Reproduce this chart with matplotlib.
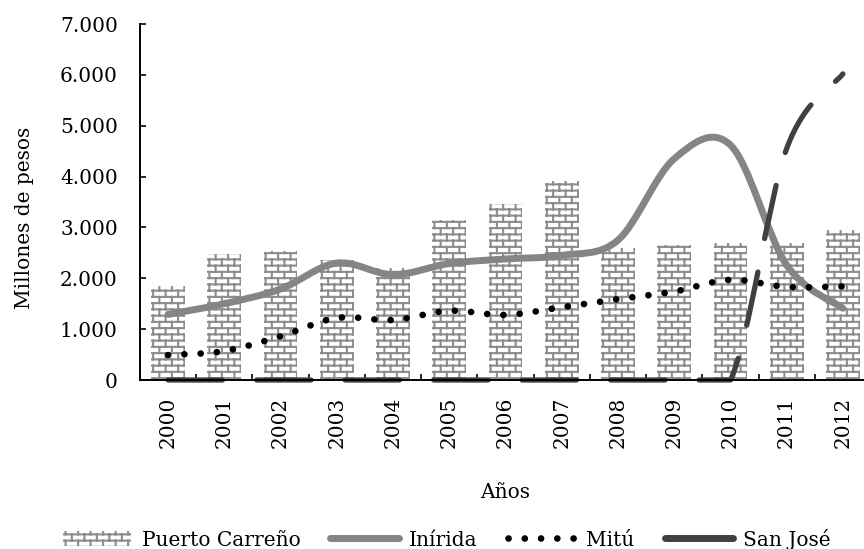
import numpy as np
import matplotlib
matplotlib.use('Agg')
import matplotlib.pyplot as plt
import matplotlib.hatch as mhatch
from matplotlib.path import Path
from matplotlib.patches import PathPatch, Patch
from matplotlib.lines import Line2D
from matplotlib.ticker import FuncFormatter, FixedLocator

# ---------------- data ----------------
years = ['2000', '2001', '2002', '2003', '2004', '2005', '2006',
         '2007', '2008', '2009', '2010', '2011', '2012']
puerto_carreno = [1850, 2480, 2540, 2350, 2200, 3150, 3460, 3920, 2600, 2650, 2700, 2700, 2940]
inirida = [1290, 1500, 1790, 2300, 2070, 2290, 2380, 2450, 2750, 4350, 4620, 2260, 1410]
mitu = [490, 570, 860, 1220, 1180, 1360, 1280, 1430, 1590, 1740, 1970, 1830, 1840]
san_jose = [0, 0, 0, 0, 0, 0, 0, 0, 0, 0, 0, 4550, 6020]

series_labels = ['Puerto Carreño', 'Inírida', 'Mitú', 'San José']
y_ticks = [0, 1000, 2000, 3000, 4000, 5000, 6000, 7000]

# ---------------- brick hatch ----------------
class BrickHatch(mhatch.HatchPatternBase):
    rows = 16
    cols = 8

    def __init__(self, hatch, density):
        self.on = '+' in hatch
        n, m = self.rows, self.cols
        self.num_vertices = (2 * n + 2 * (n + 1) * m) if self.on else 0

    def set_vertices_and_codes(self, vertices, codes):
        n, m = self.rows, self.cols
        k = 0
        for i in range(n):
            y = (i + 0.5) / n
            vertices[k] = (0.0, y)
            vertices[k + 1] = (1.0, y)
            codes[k] = Path.MOVETO
            codes[k + 1] = Path.LINETO
            k += 2
        for i in range(-1, n):
            y0 = (i + 0.5) / n
            y1 = y0 + 1.0 / n
            off = 0.5 if (i % 2) else 0.0
            for j in range(m):
                x = (j + off + 0.25) / m
                vertices[k] = (x, y0)
                vertices[k + 1] = (x, y1)
                codes[k] = Path.MOVETO
                codes[k + 1] = Path.LINETO
                k += 2

mhatch._hatch_types = [BrickHatch]

BRICK = '#8c8c8c'
INI = '#858585'
SJ = '#404040'
FS = 14.5

plt.rcParams['font.family'] = ['DejaVu Serif']
plt.rcParams['hatch.linewidth'] = 1.5
plt.rcParams['hatch.color'] = BRICK


def smooth_path(xv, yv, floor=None):
    P = np.column_stack([np.asarray(xv, float), np.asarray(yv, float)])
    E = np.vstack([P[0], P, P[-1]])
    verts = [P[0]]
    codes = [Path.MOVETO]
    for i in range(len(P) - 1):
        p0, p1, p2, p3 = E[i], E[i + 1], E[i + 2], E[i + 3]
        c1 = p1 + (p2 - p0) / 6.0
        c2 = p2 - (p3 - p1) / 6.0
        if floor is not None:
            c1[1] = max(c1[1], floor)
            c2[1] = max(c2[1], floor)
        verts += [c1, c2, p2]
        codes += [Path.CURVE4] * 3
    return Path(verts, codes)


fig = plt.figure(figsize=(8.64, 5.49), dpi=100)
ax = fig.add_axes([140 / 864, 1 - 380 / 549, 731 / 864, 356 / 549])

x = np.arange(len(years))
ax.bar(x, puerto_carreno, width=0.6, facecolor='white', edgecolor=BRICK,
       linewidth=0, hatch='+', zorder=1)

p_ini = PathPatch(smooth_path(x, inirida), fill=False, edgecolor=INI, linewidth=5.0,
                  capstyle='round', joinstyle='round', zorder=3)
ax.add_patch(p_ini)
p_mitu = PathPatch(smooth_path(x, mitu), fill=False, edgecolor='black', linewidth=4.8,
                   linestyle=(0, (0.01, 2.43)), capstyle='round', joinstyle='round', zorder=4)
ax.add_patch(p_mitu)
p_sj = PathPatch(smooth_path(x, san_jose, floor=0), fill=False, edgecolor=SJ, linewidth=3.8,
                 linestyle=(0, (10.3, 6.47)), capstyle='round', joinstyle='round', zorder=5)
ax.add_patch(p_sj)
p_sj.set_clip_on(False)

ax.set_xlim(-0.5, len(years) - 0.5)
ax.set_ylim(0, 7000)

for s in ['top', 'right']:
    ax.spines[s].set_visible(False)
for s in ['left', 'bottom']:
    ax.spines[s].set_linewidth(1.4)
    ax.spines[s].set_color('black')
    ax.spines[s].set_zorder(6)

ax.yaxis.set_major_locator(FixedLocator(y_ticks))
ax.yaxis.set_major_formatter(FuncFormatter(lambda v, p: f"{int(v):,}".replace(',', '.')))
ax.tick_params(axis='y', direction='in', length=4, width=1.2, pad=16, labelsize=FS)

ax.set_xticks(np.arange(len(years) + 1) - 0.5)
ax.set_xticklabels([])
ax.set_xticks(x, minor=True)
ax.set_xticklabels(years, minor=True, rotation=90)
ax.tick_params(axis='x', which='major', direction='in', length=4, width=1.2)
ax.tick_params(axis='x', which='minor', length=0, pad=12, labelsize=FS)

ax.set_ylabel('Millones de pesos', fontsize=FS)
ax.yaxis.set_label_coords(-0.145, 0.455)
ax.set_xlabel('Años', fontsize=FS)
ax.xaxis.set_label_coords(0.5, -0.289)

handles = [
    Patch(facecolor='white', edgecolor=BRICK, linewidth=0, hatch='+'),
    Line2D([], [], color=INI, lw=5.0, solid_capstyle='round'),
    Line2D([], [], color='black', lw=4.8, linestyle=(0, (0.01, 2.43)), dash_capstyle='round'),
    Line2D([], [], color=SJ, lw=5.0, solid_capstyle='round'),
]
fig.legend(handles, series_labels, loc='center', bbox_to_anchor=(447 / 864, 1 - 539 / 549),
           ncol=4, frameon=False, fontsize=FS, handlelength=3.4, handletextpad=0.5,
           columnspacing=1.5, borderpad=0, borderaxespad=0)

fig.savefig('out.png', dpi=100)
